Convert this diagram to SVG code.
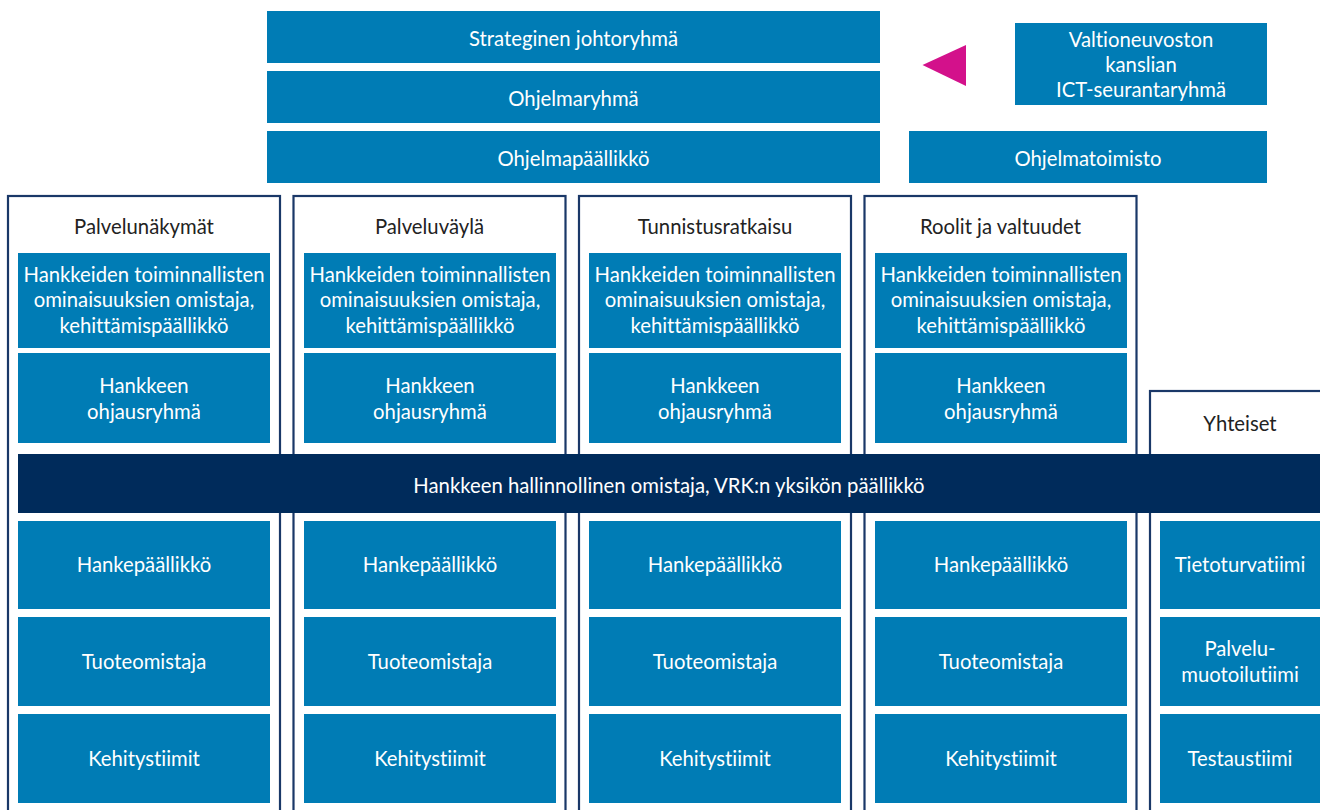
<svg xmlns="http://www.w3.org/2000/svg" width="1320" height="810" viewBox="0 0 1320 810">
  <style>
    .box { fill: #007CB5; }
    .band { fill: #002B5B; }
    .col { fill: #FFFFFF; stroke: #1A3868; stroke-width: 2.2; }
    .t, .h { font-family: "Lato", "Open Sans", "Liberation Sans", sans-serif; font-size: 20.3px; text-anchor: middle; font-variant-ligatures: none; }
    .t { fill: #FFFFFF; }
    .h { fill: #222222; }
  </style>
  <rect width="1320" height="810" fill="#FFFFFF"/>

  <!-- programme level -->
  <g id="strateginen-johtoryhma">
    <rect class="box" x="267" y="11" width="613" height="52"/>
    <text class="t" x="573.5" y="46">Strateginen johtoryhmä</text>
  </g>
  <g id="ohjelmaryhma">
    <rect class="box" x="267" y="71" width="613" height="52"/>
    <text class="t" x="573.5" y="106">Ohjelmaryhmä</text>
  </g>
  <g id="ohjelmapaallikko">
    <rect class="box" x="267" y="131" width="613" height="52"/>
    <text class="t" x="573.5" y="166">Ohjelmapäällikkö</text>
  </g>
  <g id="ict-seurantaryhma">
    <rect class="box" x="1015" y="23" width="252" height="82"/>
    <text class="t" x="1141" y="47">Valtioneuvoston</text>
    <text class="t" x="1141" y="72">kanslian</text>
    <text class="t" x="1141" y="97">ICT-seurantaryhmä</text>
  </g>
  <g id="ohjelmatoimisto">
    <rect class="box" x="909" y="131" width="358" height="52"/>
    <text class="t" x="1088" y="166">Ohjelmatoimisto</text>
  </g>

  <!-- reporting pointer -->
  <g id="connectors">
    <polygon points="922.5,65 966,45 966,86" fill="#D3118B"/>
  </g>

  <!-- project columns -->
  <g id="col-palvelunakymat">
    <rect class="col" x="8" y="196" width="272" height="630"/>
    <text class="h" x="144" y="234">Palvelunäkymät</text>
    <rect class="box" x="18" y="253" width="252" height="95"/>
    <text class="t" x="144" y="282">Hankkeiden toiminnallisten</text>
    <text class="t" x="144" y="307">ominaisuuksien omistaja,</text>
    <text class="t" x="144" y="333">kehittämispäällikkö</text>
    <rect class="box" x="18" y="353" width="252" height="90"/>
    <text class="t" x="144" y="393">Hankkeen</text>
    <text class="t" x="144" y="419">ohjausryhmä</text>
  </g>
  <g id="col-palveluvayla">
    <rect class="col" x="293.5" y="196" width="272" height="630"/>
    <text class="h" x="429.5" y="234">Palveluväylä</text>
    <rect class="box" x="304" y="253" width="252" height="95"/>
    <text class="t" x="430" y="282">Hankkeiden toiminnallisten</text>
    <text class="t" x="430" y="307">ominaisuuksien omistaja,</text>
    <text class="t" x="430" y="333">kehittämispäällikkö</text>
    <rect class="box" x="304" y="353" width="252" height="90"/>
    <text class="t" x="430" y="393">Hankkeen</text>
    <text class="t" x="430" y="419">ohjausryhmä</text>
  </g>
  <g id="col-tunnistusratkaisu">
    <rect class="col" x="579" y="196" width="272" height="630"/>
    <text class="h" x="715" y="234">Tunnistusratkaisu</text>
    <rect class="box" x="589" y="253" width="252" height="95"/>
    <text class="t" x="715" y="282">Hankkeiden toiminnallisten</text>
    <text class="t" x="715" y="307">ominaisuuksien omistaja,</text>
    <text class="t" x="715" y="333">kehittämispäällikkö</text>
    <rect class="box" x="589" y="353" width="252" height="90"/>
    <text class="t" x="715" y="393">Hankkeen</text>
    <text class="t" x="715" y="419">ohjausryhmä</text>
  </g>
  <g id="col-roolit-ja-valtuudet">
    <rect class="col" x="864.5" y="196" width="272" height="630"/>
    <text class="h" x="1000.5" y="234">Roolit ja valtuudet</text>
    <rect class="box" x="875" y="253" width="252" height="95"/>
    <text class="t" x="1001" y="282">Hankkeiden toiminnallisten</text>
    <text class="t" x="1001" y="307">ominaisuuksien omistaja,</text>
    <text class="t" x="1001" y="333">kehittämispäällikkö</text>
    <rect class="box" x="875" y="353" width="252" height="90"/>
    <text class="t" x="1001" y="393">Hankkeen</text>
    <text class="t" x="1001" y="419">ohjausryhmä</text>
  </g>
  <g id="col-yhteiset">
    <rect class="col" x="1150" y="391" width="200" height="440"/>
    <text class="h" x="1240" y="431">Yhteiset</text>
  </g>

  <!-- shared owner band across all columns -->
  <g id="hallinnollinen-omistaja">
    <rect class="band" x="18" y="454" width="1302" height="59"/>
    <text class="t" x="669" y="493">Hankkeen hallinnollinen omistaja, VRK:n yksikön päällikkö</text>
  </g>

  <!-- per-project roles -->
  <g id="roles-palvelunakymat">
    <rect class="box" x="18" y="521" width="252" height="88"/>
    <text class="t" x="144" y="572">Hankepäällikkö</text>
    <rect class="box" x="18" y="617" width="252" height="89"/>
    <text class="t" x="144" y="669">Tuoteomistaja</text>
    <rect class="box" x="18" y="714" width="252" height="89"/>
    <text class="t" x="144" y="766">Kehitystiimit</text>
  </g>
  <g id="roles-palveluvayla">
    <rect class="box" x="304" y="521" width="252" height="88"/>
    <text class="t" x="430" y="572">Hankepäällikkö</text>
    <rect class="box" x="304" y="617" width="252" height="89"/>
    <text class="t" x="430" y="669">Tuoteomistaja</text>
    <rect class="box" x="304" y="714" width="252" height="89"/>
    <text class="t" x="430" y="766">Kehitystiimit</text>
  </g>
  <g id="roles-tunnistusratkaisu">
    <rect class="box" x="589" y="521" width="252" height="88"/>
    <text class="t" x="715" y="572">Hankepäällikkö</text>
    <rect class="box" x="589" y="617" width="252" height="89"/>
    <text class="t" x="715" y="669">Tuoteomistaja</text>
    <rect class="box" x="589" y="714" width="252" height="89"/>
    <text class="t" x="715" y="766">Kehitystiimit</text>
  </g>
  <g id="roles-roolit-ja-valtuudet">
    <rect class="box" x="875" y="521" width="252" height="88"/>
    <text class="t" x="1001" y="572">Hankepäällikkö</text>
    <rect class="box" x="875" y="617" width="252" height="89"/>
    <text class="t" x="1001" y="669">Tuoteomistaja</text>
    <rect class="box" x="875" y="714" width="252" height="89"/>
    <text class="t" x="1001" y="766">Kehitystiimit</text>
  </g>
  <g id="roles-yhteiset">
    <rect class="box" x="1160" y="521" width="170" height="88"/>
    <text class="t" x="1240" y="572">Tietoturvatiimi</text>
    <rect class="box" x="1160" y="617" width="170" height="89"/>
    <text class="t" x="1240" y="656">Palvelu-</text>
    <text class="t" x="1240" y="682">muotoilutiimi</text>
    <rect class="box" x="1160" y="714" width="170" height="89"/>
    <text class="t" x="1240" y="766">Testaustiimi</text>
  </g>
</svg>
